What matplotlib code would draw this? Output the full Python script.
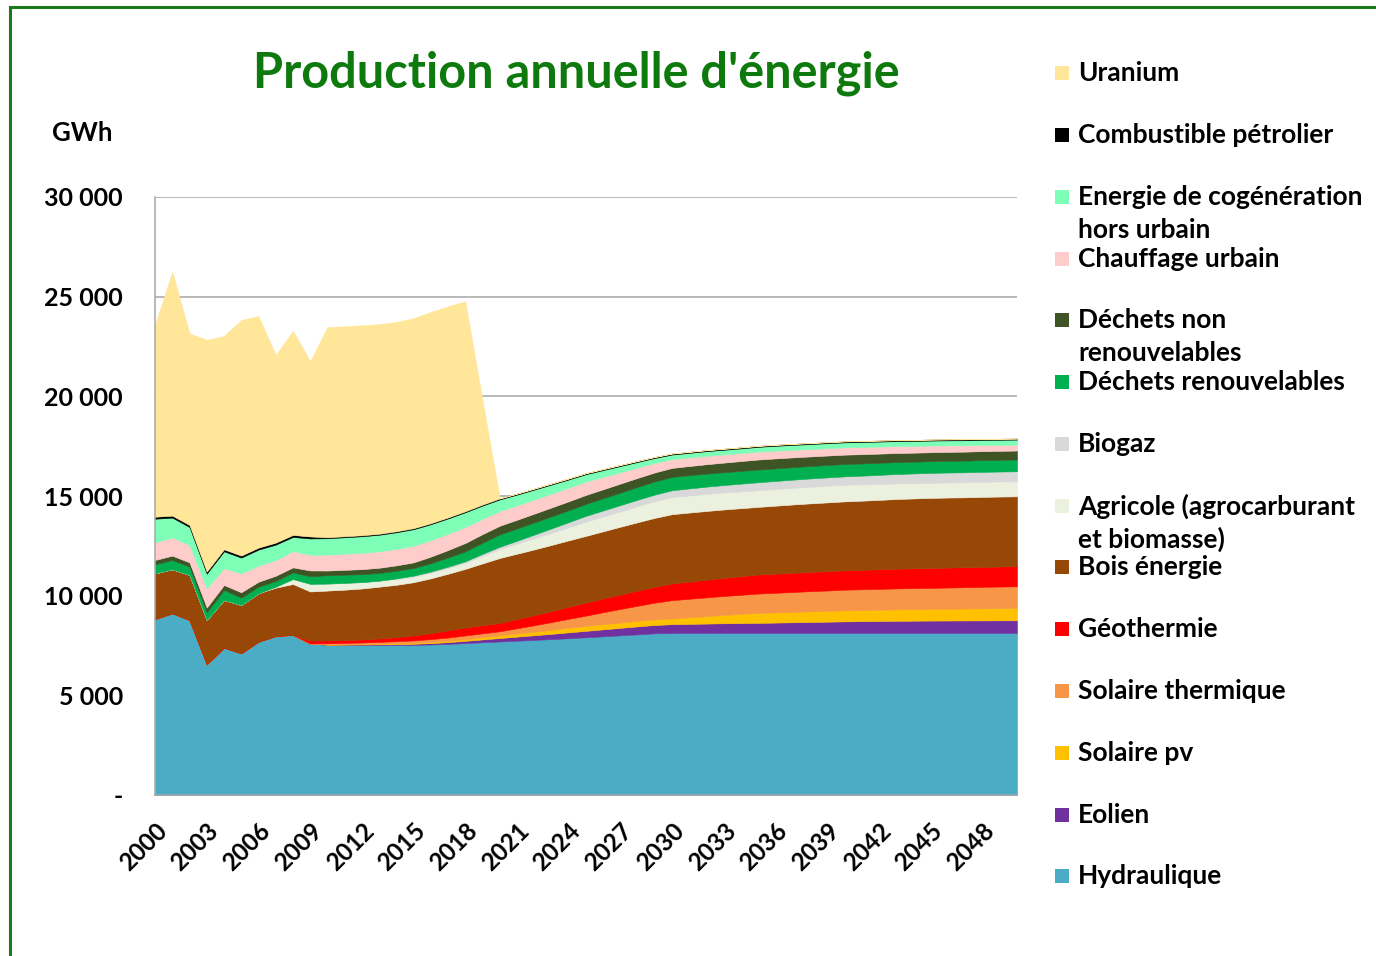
import matplotlib
matplotlib.use("Agg")
import matplotlib.pyplot as plt
from matplotlib.patches import Rectangle
from matplotlib.transforms import ScaledTranslation

# ── données (GWh) ─────────────────────────────────────────────────────────────
years = list(range(2000, 2051))

hydraulique = [8830, 9115, 8780, 6555, 7390, 7110, 7690, 7975, 8030, 7600,
               7530, 7530, 7530, 7530, 7530, 7530, 7550, 7580, 7620, 7660,
               7700, 7740, 7780, 7820, 7865, 7910, 7960, 8010, 8060, 8110,
               8130, 8130, 8130, 8130, 8130, 8130, 8130, 8130, 8130, 8130,
               8130, 8130, 8130, 8130, 8130, 8130, 8130, 8130, 8130, 8130, 8130]
eolien = [0, 0, 0, 0, 0, 0, 0, 0, 0, 0,
          10, 15, 20, 30, 40, 55, 70, 90, 115, 145,
          175, 205, 235, 265, 295, 325, 350, 375, 400, 420,
          440, 455, 470, 485, 495, 505, 520, 535, 550, 565,
          580, 590, 600, 608, 615, 620, 623, 626, 629, 632, 635]
solaire_pv = [0, 0, 0, 0, 0, 0, 0, 0, 0, 0,
              10, 15, 20, 30, 40, 50, 60, 70, 85, 110,
              140, 160, 180, 205, 230, 250, 260, 270, 275, 280,
              285, 330, 375, 420, 460, 500, 510, 520, 535, 545,
              555, 560, 565, 575, 580, 585, 595, 600, 608, 615, 620]
solaire_thermique = [0, 0, 0, 0, 0, 0, 0, 0, 0, 0,
                     60, 70, 80, 90, 105, 120, 140, 160, 185, 195,
                     200, 260, 320, 385, 450, 515, 600, 680, 760, 840,
                     920, 930, 940, 950, 960, 970, 985, 1000, 1010, 1020,
                     1035, 1040, 1045, 1050, 1052, 1055, 1060, 1068, 1075, 1080, 1085]
geothermie = [0, 0, 0, 0, 0, 0, 0, 0, 0, 150,
              140, 140, 150, 170, 200, 250, 300, 360, 400, 410,
              415, 460, 505, 555, 605, 655, 690, 725, 760, 800,
              835, 860, 885, 910, 935, 955, 960, 965, 965, 970,
              970, 975, 985, 990, 995, 1000, 1000, 1000, 1005, 1005, 1005]
bois_energie = [2290, 2210, 2260, 2225, 2395, 2420, 2430, 2425, 2555, 2460,
                2505, 2530, 2560, 2600, 2630, 2670, 2750, 2840, 2940, 3100,
                3260, 3280, 3300, 3315, 3330, 3345, 3370, 3400, 3430, 3455,
                3480, 3465, 3450, 3430, 3410, 3395, 3410, 3425, 3440, 3450,
                3460, 3470, 3480, 3495, 3505, 3515, 3515, 3510, 3510, 3510, 3510]
agricole = [0, 0, 0, 0, 0, 0, 0, 50, 250, 385,
            350, 340, 320, 300, 290, 280, 280, 285, 300, 380,
            450, 500, 560, 610, 660, 715, 745, 775, 810, 840,
            865, 860, 855, 850, 840, 835, 835, 835, 835, 835,
            835, 820, 800, 785, 770, 755, 755, 755, 755, 755, 755]
biogaz = [0, 0, 0, 0, 0, 0, 0, 0, 0, 0,
          0, 0, 0, 0, 30, 50, 60, 70, 80, 100,
          115, 150, 185, 220, 255, 290, 300, 310, 320, 330,
          335, 350, 365, 375, 390, 400, 405, 410, 415, 418,
          420, 435, 455, 470, 485, 500, 500, 500, 500, 500, 500]
dechets_renouv = [455, 465, 415, 385, 500, 370, 330, 285, 335, 380,
                  420, 410, 400, 390, 385, 380, 420, 460, 500, 560,
                  620, 615, 610, 605, 600, 600, 615, 630, 645, 660,
                  670, 665, 655, 645, 640, 635, 630, 628, 625, 622,
                  620, 613, 605, 598, 590, 585, 586, 587, 588, 589, 590]
dechets_non_renouv = [215, 220, 215, 235, 250, 270, 250, 265, 250, 290,
                      235, 245, 250, 260, 270, 285, 330, 375, 420, 430,
                      435, 438, 441, 444, 447, 450, 450, 450, 450, 450,
                      450, 460, 470, 480, 495, 505, 500, 490, 480, 475,
                      470, 465, 460, 455, 452, 450, 450, 450, 450, 450, 450]
chauffage_urbain = [885, 920, 870, 970, 835, 950, 805, 790, 820, 785,
                    800, 810, 820, 825, 830, 835, 825, 815, 805, 770,
                    735, 722, 710, 695, 683, 670, 620, 570, 520, 475,
                    440, 430, 420, 410, 400, 395, 388, 380, 372, 368,
                    365, 360, 355, 345, 340, 335, 328, 320, 313, 306, 300]
cogeneration = [1185, 985, 905, 735, 855, 790, 805, 770, 705, 820,
                820, 825, 830, 830, 830, 830, 800, 770, 735, 660,
                585, 540, 495, 455, 410, 370, 340, 310, 280, 250,
                230, 230, 235, 235, 235, 240, 245, 245, 250, 250,
                250, 250, 250, 250, 250, 250, 250, 250, 250, 250, 250]
combustible_petrolier = [100, 100, 100, 100, 100, 100, 100, 100, 100, 100,
                         50, 50, 50, 50, 50, 50, 50, 50, 50, 50,
                         50, 50, 50, 50, 50, 50, 50, 50, 50, 50,
                         50, 50, 50, 50, 50, 50, 50, 50, 50, 50,
                         50, 50, 50, 50, 50, 50, 50, 50, 50, 50, 50]
uranium = [9620, 12235, 9615, 11625, 10705, 11820, 11620, 9415, 10235, 8795,
           10545, 10530, 10535, 10515, 10505, 10535, 10600, 10590, 10535, 5200,
           0, 0, 0, 0, 0, 0, 0, 0, 0, 0,
           0, 0, 0, 0, 0, 0, 0, 0, 0, 0,
           0, 0, 0, 0, 0, 0, 0, 0, 0, 0, 0]

# ordre d'empilement (bas -> haut)
series = [hydraulique, eolien, solaire_pv, solaire_thermique, geothermie,
          bois_energie, agricole, biogaz, dechets_renouv, dechets_non_renouv,
          chauffage_urbain, cogeneration, combustible_petrolier, uranium]
colors = ["#4BACC6", "#7030A0", "#FFC000", "#F79646", "#FF0000",
          "#974706", "#EBF1DE", "#D9D9D9", "#00B050", "#3F5424",
          "#FFCCCC", "#7DFFB8", "#000000", "#FFE699"]

# légende (haut -> bas), plusieurs lignes pour certaines entrées
legend_labels = [["Uranium"], ["Combustible pétrolier"],
                 ["Energie de cogénération", "hors urbain"], ["Chauffage urbain"],
                 ["Déchets non", "renouvelables"], ["Déchets renouvelables"],
                 ["Biogaz"], ["Agricole (agrocarburant", "et biomasse)"],
                 ["Bois énergie"], ["Géothermie"], ["Solaire thermique"],
                 ["Solaire pv"], ["Eolien"], ["Hydraulique"]]
legend_y = [73, 135, 197, 259, 320, 382, 444, 506, 567, 629, 691, 753, 815, 876]

yticks = [0, 5000, 10000, 15000, 20000, 25000, 30000]
ytick_labels = ["-", "5 000", "10 000", "15 000", "20 000", "25 000", "30 000"]
xticks = list(range(2000, 2049, 3))

# ── figure ────────────────────────────────────────────────────────────────────
W, H = 1376, 956
FONT = "Lato"
plt.rcParams["font.family"] = [FONT, "DejaVu Sans"]
plt.rcParams["font.weight"] = "bold"

fig = plt.figure(figsize=(W / 100, H / 100), dpi=100)
fig.patch.set_facecolor("white")

# cadre vert du graphique
fig.add_artist(Rectangle((10 / W, -0.1), 1.2, 1 - 7 / H + 0.1,
                         transform=fig.transFigure, fill=False,
                         edgecolor="#1A7A1A", lw=2.2))

ax = fig.add_axes([155 / W, 1 - 795 / H, (1017 - 155) / W, (795 - 197) / H])
ax.stackplot(years, *series, colors=colors, lw=0.4,
             edgecolor="face", zorder=2)

ax.set_xlim(2000, 2050)
ax.set_ylim(0, 30000)
ax.set_yticks(yticks)
ax.set_yticklabels(ytick_labels, fontsize=18, fontweight="bold")
ax.set_xticks(xticks)
ax.set_xticklabels([str(x) for x in xticks], rotation=45, ha="right",
                   rotation_mode="anchor", fontsize=17.5, fontweight="bold")
shift = ScaledTranslation(-5 / 100, -2 / 100, fig.dpi_scale_trans)
for lbl in ax.get_xticklabels():
    lbl.set_transform(lbl.get_transform() + shift)
ax.tick_params(axis="both", length=0)
ax.tick_params(axis="y", pad=23)
ax.tick_params(axis="x", pad=17)
ax.grid(axis="y", color="#A6A6A6", lw=1.1, zorder=0)
ax.set_axisbelow(True)
for side in ("top", "right"):
    ax.spines[side].set_visible(False)
for side in ("left", "bottom"):
    ax.spines[side].set_color("#A6A6A6")
    ax.spines[side].set_linewidth(1.1)

fig.text(576 / W, 1 - 73 / H, "Production annuelle d'énergie", color="#0E7A0E",
         fontsize=35, fontweight="bold", ha="center", va="center")
fig.text(52 / W, 1 - 133 / H, "GWh", fontsize=18.5, fontweight="bold",
         ha="left", va="center")

# légende manuelle
leg_colors = colors[::-1]
for lines, y, c in zip(legend_labels, legend_y, leg_colors):
    fig.add_artist(Rectangle((1055 / W, 1 - (y + 7) / H), 14 / W, 14 / H,
                             transform=fig.transFigure, color=c, lw=0))
    for k, line in enumerate(lines):
        fig.text(1078 / W, 1 - (y + 33 * k) / H, line, fontsize=19,
                 fontweight="bold", ha="left", va="center")

fig.savefig("out.png", dpi=100)
plt.close(fig)
